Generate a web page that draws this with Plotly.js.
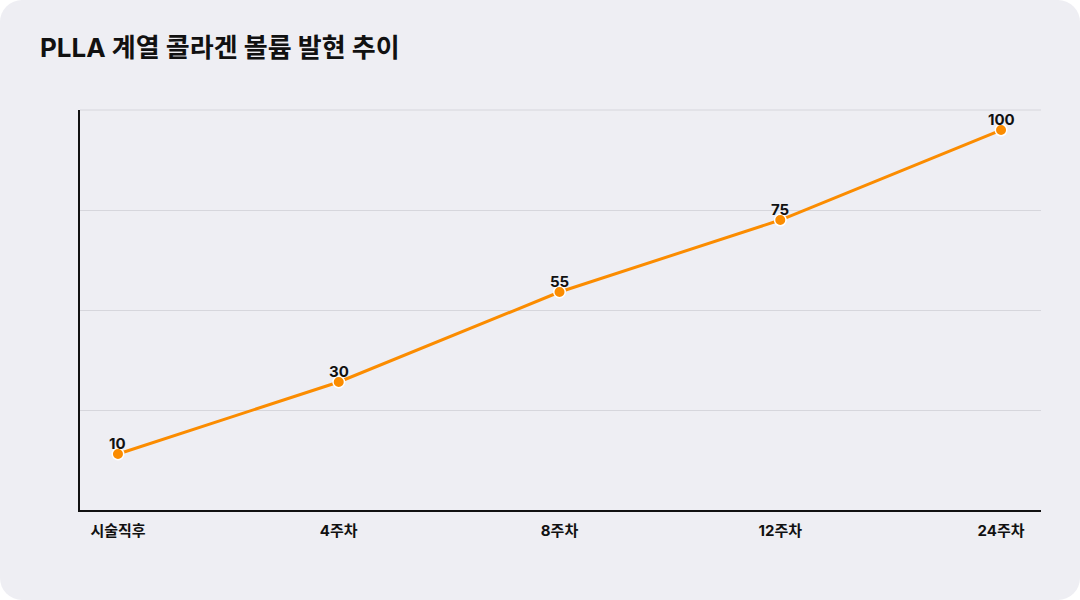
<!DOCTYPE html>
<html><head><meta charset="utf-8">
<script src="https://cdn.plot.ly/plotly-3.0.1.min.js"></script>
<style>
html,body{margin:0;padding:0;background:#ffffff;}
#card{position:absolute;left:0;top:0;width:1080px;height:600px;background:#eeeef3;border-radius:22px;overflow:hidden;}
#chart{width:1080px;height:600px;}
</style></head>
<body><div id="card"><div id="chart"></div></div>
<script>
const categories = ["시술직후", "4주차", "8주차", "12주차", "24주차"];
const values = [10, 30, 55, 75, 100];
const labels = ["10", "30", "55", "75", "100"];

const FONT = "Inter, 'Noto Sans CJK KR', 'Noto Sans', sans-serif";
const yMin = -5.556, dt = 27.778;

const annotations = categories.map((c, i) => ({
  x: c, y: values[i], xref: 'x', yref: 'y',
  text: '<b>' + labels[i] + '</b>', showarrow: false,
  yanchor: 'middle', xanchor: 'center', yshift: 11,
  font: {family: FONT, size: 15, color: '#111111'}
}));

Plotly.newPlot('chart', [{
  type: 'scatter',
  mode: 'lines+markers',
  x: categories,
  y: values,
  line: {color: '#fb8c00', width: 3},
  marker: {color: '#fb8c00', size: 11.5, line: {color: '#ffffff', width: 1.5}},
  cliponaxis: false,
  hoverinfo: 'none'
}], {
  width: 1080, height: 600,
  paper_bgcolor: 'rgba(0,0,0,0)',
  plot_bgcolor: 'rgba(0,0,0,0)',
  margin: {l: 80, r: 39, t: 110, b: 90},
  showlegend: false,
  annotations: annotations,
  shapes: [{
    type: 'line', xref: 'paper', yref: 'paper', x0: 0, x1: 1, y0: 1, y1: 1,
    line: {color: '#d6d6dc', width: 1}, layer: 'below'
  }],
  title: {
    text: '<b>PLLA 계열 콜라겐 볼륨 발현 추이</b>',
    font: {family: FONT, size: 26, color: '#111111'},
    x: 40/1080, xanchor: 'left', xref: 'container',
    y: 1 - 48/600, yanchor: 'middle', yref: 'container'
  },
  xaxis: {
    type: 'category',
    range: [-0.172, 4.181],
    showgrid: false,
    showline: true, linecolor: '#111111', linewidth: 2,
    ticks: '',
    ticklabelstandoff: 6,
    tickfont: {family: FONT, size: 15, color: '#111111', weight: 700},
    zeroline: false,
    fixedrange: true
  },
  yaxis: {
    range: [yMin, yMin + 4 * dt + 0.01],
    tick0: yMin, dtick: dt,
    showticklabels: false,
    ticks: '',
    showgrid: true, gridcolor: '#d6d6dc', gridwidth: 1,
    showline: true, linecolor: '#111111', linewidth: 2,
    zeroline: false,
    fixedrange: true
  }
}, {displayModeBar: false, staticPlot: true});
</script></body></html>
